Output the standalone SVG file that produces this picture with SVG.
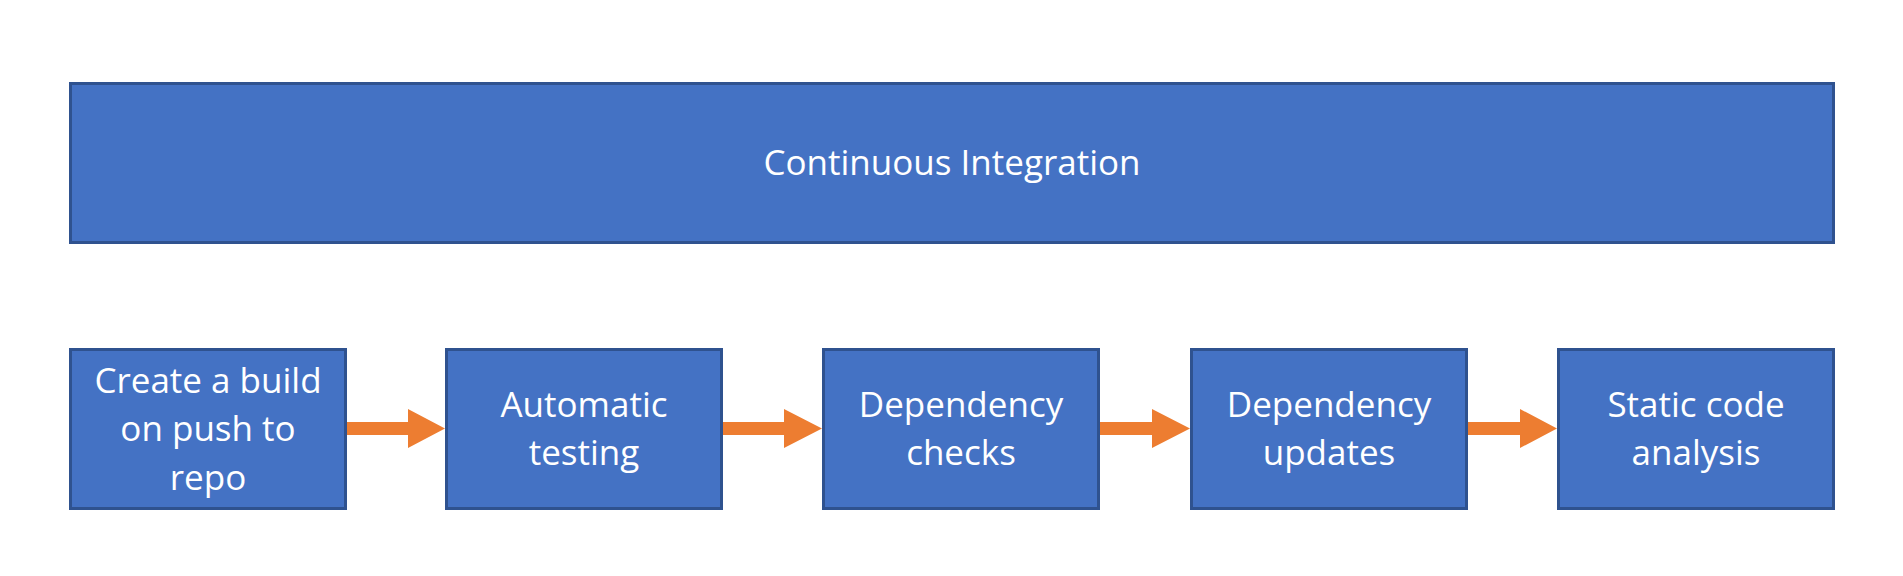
<svg xmlns="http://www.w3.org/2000/svg" width="1903" height="576" viewBox="0 0 1903 576">
<style>
.box{fill:#4472C4;stroke:#2F528F;stroke-width:3}
.lbl{font-family:"Open Sans","Noto Sans",sans-serif;font-size:35px;fill:#FFFFFF;text-anchor:middle}
.arr{fill:#ED7D31}
</style>
<rect width="1903" height="576" fill="#FFFFFF"/>
<g id="ci">
<rect class="box" x="70.5" y="83.5" width="1763" height="159"/>
<text class="lbl" x="952" y="175">Continuous Integration</text>
</g>
<g id="build">
<rect class="box" x="70.5" y="349.5" width="275" height="159"/>
<text class="lbl" x="208" y="393">Create a build</text>
<text class="lbl" x="208" y="441">on push to</text>
<text class="lbl" x="208" y="490">repo</text>
</g>
<g id="testing">
<rect class="box" x="446.5" y="349.5" width="275" height="159"/>
<text class="lbl" x="584" y="417">Automatic</text>
<text class="lbl" x="584" y="465">testing</text>
</g>
<g id="checks">
<rect class="box" x="823.5" y="349.5" width="275" height="159"/>
<text class="lbl" x="961" y="417">Dependency</text>
<text class="lbl" x="961" y="465">checks</text>
</g>
<g id="updates">
<rect class="box" x="1191.5" y="349.5" width="275" height="159"/>
<text class="lbl" x="1329" y="417">Dependency</text>
<text class="lbl" x="1329" y="465">updates</text>
</g>
<g id="static">
<rect class="box" x="1558.5" y="349.5" width="275" height="159"/>
<text class="lbl" x="1696" y="417">Static code</text>
<text class="lbl" x="1696" y="465">analysis</text>
</g>
<g id="connectors">
<polygon class="arr" points="347,422 408,422 408,409 445,428.5 408,448 408,435 347,435"/>
<polygon class="arr" points="723,422 784,422 784,409 822,428.5 784,448 784,435 723,435"/>
<polygon class="arr" points="1100,422 1152,422 1152,409 1190,428.5 1152,448 1152,435 1100,435"/>
<polygon class="arr" points="1468,422 1520,422 1520,409 1557,428.5 1520,448 1520,435 1468,435"/>
</g>
</svg>
